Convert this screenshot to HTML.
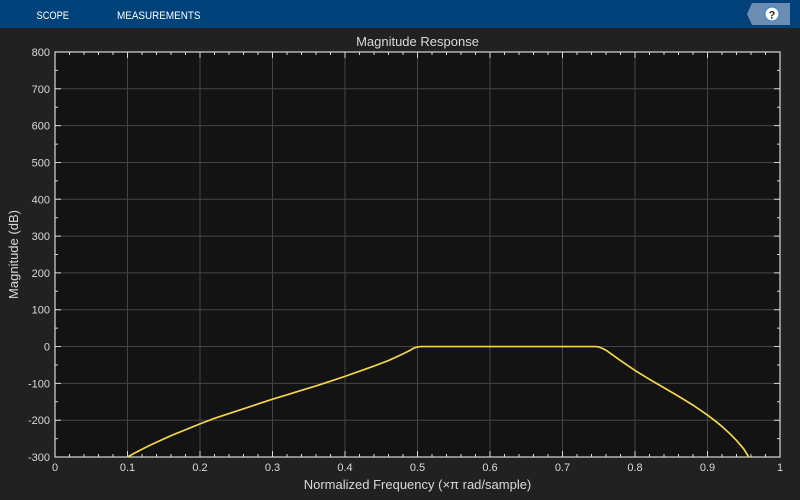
<!DOCTYPE html>
<html><head><meta charset="utf-8"><style>
html,body{margin:0;padding:0;background:#212121;width:800px;height:500px;overflow:hidden}
svg{display:block}
text{font-family:"Liberation Sans",Arial,sans-serif}
</style></head><body>
<svg width="800" height="500" viewBox="0 0 800 500" xmlns="http://www.w3.org/2000/svg">
<rect x="0" y="0" width="800" height="500" fill="#212121"/>
<rect x="0" y="0" width="800" height="28" fill="#01427a"/>
<text x="36.5" y="19" fill="#ffffff" font-size="11" textLength="32.5" lengthAdjust="spacingAndGlyphs">SCOPE</text>
<text x="117" y="19" fill="#ffffff" font-size="11" textLength="83.5" lengthAdjust="spacingAndGlyphs">MEASUREMENTS</text>
<polygon points="752,3 790,3 790,25 752,25 747,14" fill="#6b8db2"/>
<circle cx="772" cy="14" r="7" fill="#ffffff" stroke="#2b7fd0" stroke-width="1"/>
<text x="772" y="18.5" fill="#222" font-size="11" font-weight="bold" text-anchor="middle">?</text>

<rect x="55" y="52" width="725" height="405" fill="#131313"/>
<g stroke="#444" stroke-width="1">
<line x1="127.5" y1="52" x2="127.5" y2="457"/>
<line x1="200" y1="52" x2="200" y2="457"/>
<line x1="272.5" y1="52" x2="272.5" y2="457"/>
<line x1="345" y1="52" x2="345" y2="457"/>
<line x1="417.5" y1="52" x2="417.5" y2="457"/>
<line x1="490" y1="52" x2="490" y2="457"/>
<line x1="562.5" y1="52" x2="562.5" y2="457"/>
<line x1="635" y1="52" x2="635" y2="457"/>
<line x1="707.5" y1="52" x2="707.5" y2="457"/>
<line x1="55" y1="88.8" x2="780" y2="88.8"/>
<line x1="55" y1="125.6" x2="780" y2="125.6"/>
<line x1="55" y1="162.5" x2="780" y2="162.5"/>
<line x1="55" y1="199.3" x2="780" y2="199.3"/>
<line x1="55" y1="236.1" x2="780" y2="236.1"/>
<line x1="55" y1="272.9" x2="780" y2="272.9"/>
<line x1="55" y1="309.7" x2="780" y2="309.7"/>
<line x1="55" y1="346.5" x2="780" y2="346.5"/>
<line x1="55" y1="383.4" x2="780" y2="383.4"/>
<line x1="55" y1="420.2" x2="780" y2="420.2"/>
</g>
<g id="ticks" stroke="#d8d8d8" stroke-width="1">
<path d="M127.5,457v-6M200,457v-6M272.5,457v-6M345,457v-6M417.5,457v-6M490,457v-6M562.5,457v-6M635,457v-6M707.5,457v-6
M127.5,52v6M200,52v6M272.5,52v6M345,52v6M417.5,52v6M490,52v6M562.5,52v6M635,52v6M707.5,52v6"/>
<path d="M69.5,457v-3M84,457v-3M98.5,457v-3M113,457v-3M142,457v-3M156.5,457v-3M171,457v-3M185.5,457v-3M214.5,457v-3M229,457v-3M243.5,457v-3M258,457v-3M287,457v-3M301.5,457v-3M316,457v-3M330.5,457v-3M359.5,457v-3M374,457v-3M388.5,457v-3M403,457v-3M432,457v-3M446.5,457v-3M461,457v-3M475.5,457v-3M504.5,457v-3M519,457v-3M533.5,457v-3M548,457v-3M577,457v-3M591.5,457v-3M606,457v-3M620.5,457v-3M649.5,457v-3M664,457v-3M678.5,457v-3M693,457v-3M722,457v-3M736.5,457v-3M751,457v-3M765.5,457v-3
M69.5,52v3M84,52v3M98.5,52v3M113,52v3M142,52v3M156.5,52v3M171,52v3M185.5,52v3M214.5,52v3M229,52v3M243.5,52v3M258,52v3M287,52v3M301.5,52v3M316,52v3M330.5,52v3M359.5,52v3M374,52v3M388.5,52v3M403,52v3M432,52v3M446.5,52v3M461,52v3M475.5,52v3M504.5,52v3M519,52v3M533.5,52v3M548,52v3M577,52v3M591.5,52v3M606,52v3M620.5,52v3M649.5,52v3M664,52v3M678.5,52v3M693,52v3M722,52v3M736.5,52v3M751,52v3M765.5,52v3"/>
<path d="M55,88.8h6M55,125.6h6M55,162.5h6M55,199.3h6M55,236.1h6M55,272.9h6M55,309.7h6M55,346.5h6M55,383.4h6M55,420.2h6
M780,88.8h-6M780,125.6h-6M780,162.5h-6M780,199.3h-6M780,236.1h-6M780,272.9h-6M780,309.7h-6M780,346.5h-6M780,383.4h-6M780,420.2h-6"/>
<path d="M55,70.4h3M55,107.2h3M55,144.1h3M55,180.9h3M55,217.7h3M55,254.5h3M55,291.3h3M55,328.1h3M55,365h3M55,401.8h3M55,438.6h3
M780,70.4h-3M780,107.2h-3M780,144.1h-3M780,180.9h-3M780,217.7h-3M780,254.5h-3M780,291.3h-3M780,328.1h-3M780,365h-3M780,401.8h-3M780,438.6h-3"/>
</g>
<rect x="55" y="52" width="725" height="405" fill="none" stroke="#d8d8d8" stroke-width="1.2"/>

<polyline fill="none" stroke="#f5d64a" stroke-width="1.7" stroke-linejoin="round" points="
127.5,457 134.75,452.95 142,449.27 149.25,445.59 156.5,442.27 163.75,438.96 171,435.65 178.25,432.7 185.5,429.75 192.75,426.81 200,423.86
214.5,418.34 229,413.55 243.5,408.77 258,403.98 272.5,399.2 287,394.78 301.5,390.36 316,385.94 330.5,381.15 345,376.37 359.5,371.21 374,366.06
388.5,360.54 403,353.91 410.25,350.23 413.9,348.02 417.5,346.91 421.1,346.55 595.1,346.55 598.75,346.91 602.4,348.38 606,350.23 620.5,360.54
635,370.48 649.5,379.31 664,387.78 678.5,396.25 693,405.09 707.5,415.03 714.75,420.55 722,426.44 729.25,433.07 736.5,440.43 743.75,448.9 748.8,457"/>

<g fill="#d9d9d9" font-size="11" text-anchor="end">
<text x="50" y="56">800</text>
<text x="50" y="92.8">700</text>
<text x="50" y="129.6">600</text>
<text x="50" y="166.5">500</text>
<text x="50" y="203.3">400</text>
<text x="50" y="240.1">300</text>
<text x="50" y="276.9">200</text>
<text x="50" y="313.7">100</text>
<text x="50" y="350.5">0</text>
<text x="50" y="387.4">-100</text>
<text x="50" y="424.2">-200</text>
<text x="50" y="461">-300</text>
</g>
<g fill="#d9d9d9" font-size="11" text-anchor="middle">
<text x="55" y="471">0</text>
<text x="127.5" y="471">0.1</text>
<text x="200" y="471">0.2</text>
<text x="272.5" y="471">0.3</text>
<text x="345" y="471">0.4</text>
<text x="417.5" y="471">0.5</text>
<text x="490" y="471">0.6</text>
<text x="562.5" y="471">0.7</text>
<text x="635" y="471">0.8</text>
<text x="707.5" y="471">0.9</text>
<text x="780" y="471">1</text>
</g>
<text x="417.5" y="46" fill="#d9d9d9" font-size="13" text-anchor="middle">Magnitude Response</text>
<text x="417.5" y="489" fill="#d9d9d9" font-size="13" text-anchor="middle">Normalized Frequency (×π rad/sample)</text>
<text x="0" y="0" fill="#d9d9d9" font-size="13" text-anchor="middle" transform="translate(18,254.5) rotate(-90)">Magnitude (dB)</text>
</svg>
</body></html>
